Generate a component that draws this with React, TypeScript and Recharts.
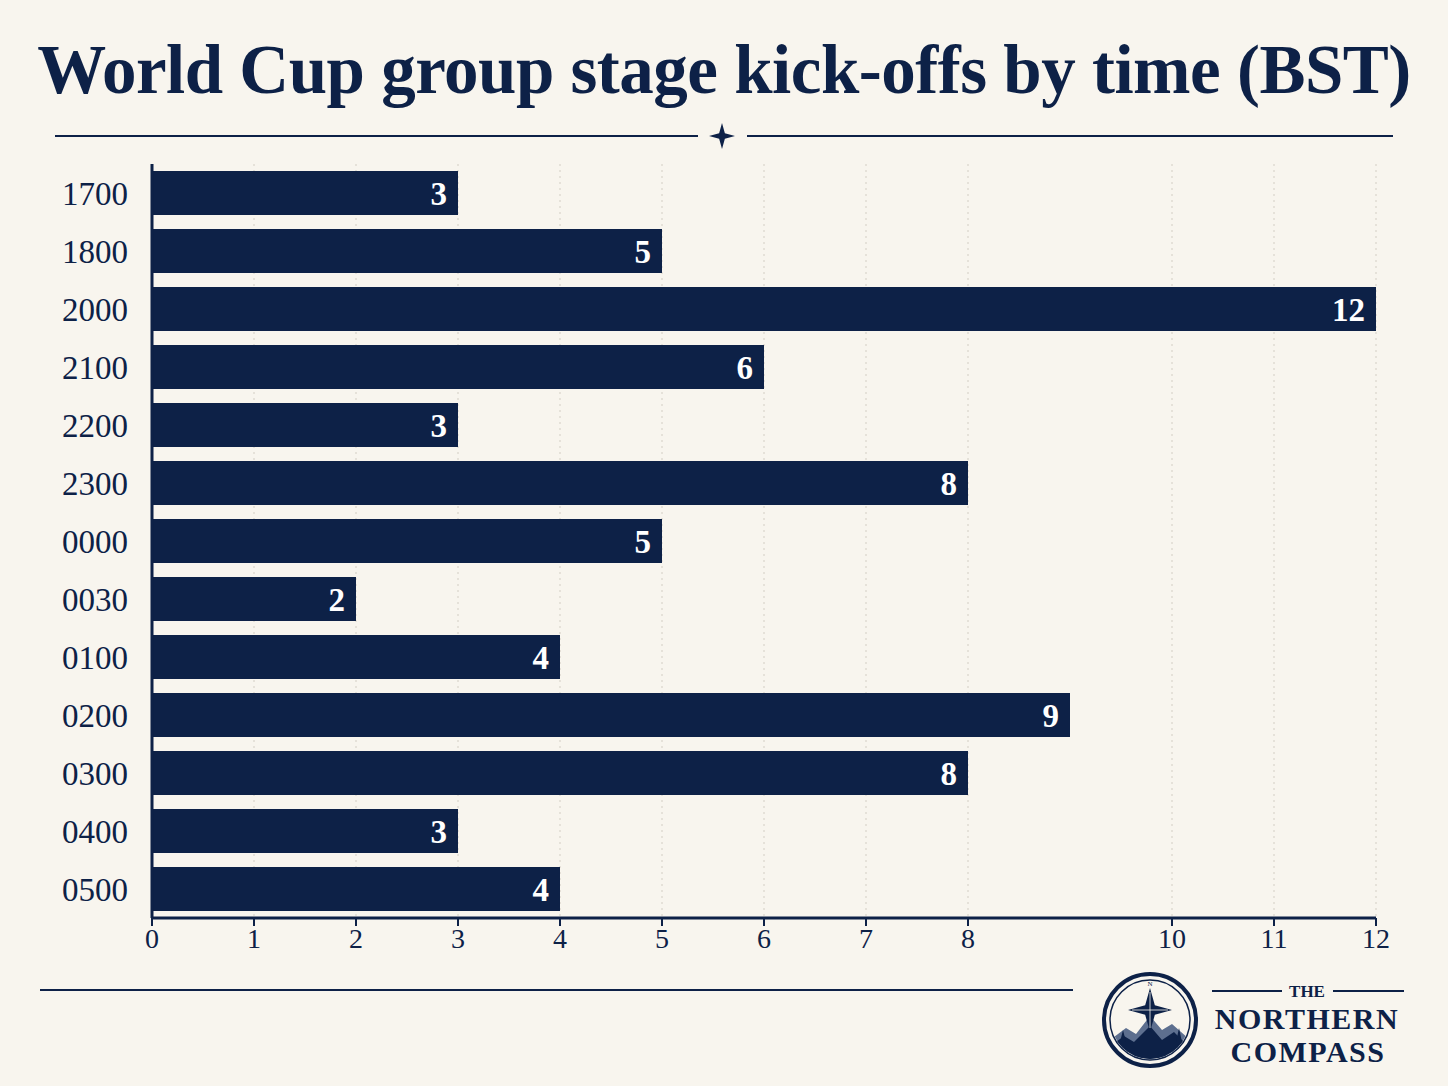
import React from "react";
import {
  BarChart,
  Bar,
  XAxis,
  YAxis,
  CartesianGrid,
  LabelList,
} from "recharts";

const NAVY = "#0d2147";
const CREAM = "#f8f5ee";
const SERIF = "'Liberation Serif', 'DejaVu Serif', serif";

// kick-off time slots (BST), top to bottom
const KICKOFFS = [
  "1700", "1800", "2000", "2100", "2200", "2300", "0000",
  "0030", "0100", "0200", "0300", "0400", "0500",
];
// number of group stage matches starting at each slot
const MATCHES = [3, 5, 12, 6, 3, 8, 5, 2, 4, 9, 8, 3, 4];
// x-axis ticks as printed on the original (no 9)
const X_TICKS = [0, 1, 2, 3, 4, 5, 6, 7, 8, 10, 11, 12];

const data = KICKOFFS.map((time, i) => ({ time, matches: MATCHES[i] }));

function Star({ cx, cy, r }: { cx: number; cy: number; r: number }) {
  const k = r * 0.22;
  const d = `M${cx},${cy - r} L${cx + k},${cy - k} L${cx + r},${cy} L${cx + k},${cy + k} L${cx},${cy + r} L${cx - k},${cy + k} L${cx - r},${cy} L${cx - k},${cy - k} Z`;
  return <path d={d} fill={NAVY} />;
}

function Logo() {
  return (
    <svg width={100} height={100} viewBox="0 0 100 100">
      <circle cx={50} cy={50} r={46} fill="none" stroke={NAVY} strokeWidth={4} />
      <circle cx={50} cy={50} r={40} fill="none" stroke={NAVY} strokeWidth={1.5} />
      <clipPath id="inner">
        <circle cx={50} cy={50} r={39} />
      </clipPath>
      <g clipPath="url(#inner)">
        <path d="M10,70 L26,58 L36,64 L50,46 L62,60 L72,54 L90,70 L90,95 L10,95 Z" fill="#5d6f8f" />
        <path d="M8,78 L24,66 L34,72 L50,56 L62,70 L74,62 L92,80 L92,95 L8,95 Z" fill={NAVY} />
        <path d="M20,72 L23,60 L26,72 Z M76,72 L79,58 L82,72 Z" fill={NAVY} />
      </g>
      <Star cx={50} cy={40} r={22} />
      <path d="M50,22 L50,58 M32,40 L68,40" stroke={CREAM} strokeWidth={0.8} />
      <text x={50} y={16} textAnchor="middle" fontSize={7} fontFamily={SERIF} fill={NAVY}>N</text>
    </svg>
  );
}

export default function App() {
  return (
    <div
      style={{
        position: "absolute",
        left: 0,
        top: 0,
        width: 1448,
        height: 1086,
        background: CREAM,
        fontFamily: SERIF,
        color: NAVY,
        overflow: "hidden",
      }}
    >
      <div
        style={{
          position: "absolute",
          top: 28,
          left: 0,
          width: 1448,
          textAlign: "center",
          fontSize: 69,
          fontWeight: 700,
          lineHeight: "84px",
          letterSpacing: -0.5,
        }}
      >
        World Cup group stage kick-offs by time (BST)
      </div>

      <svg style={{ position: "absolute", left: 0, top: 0 }} width={1448} height={1086}>
        <line x1={55} x2={698} y1={136} y2={136} stroke={NAVY} strokeWidth={2} />
        <line x1={747} x2={1393} y1={136} y2={136} stroke={NAVY} strokeWidth={2} />
        <Star cx={722} cy={136} r={13} />
        <line x1={40} x2={1073} y1={990} y2={990} stroke={NAVY} strokeWidth={2} />
        <line x1={1212} x2={1282} y1={991} y2={991} stroke={NAVY} strokeWidth={2} />
        <line x1={1333} x2={1404} y1={991} y2={991} stroke={NAVY} strokeWidth={2} />
        <text x={1307} y={997} textAnchor="middle" fontSize={17} fontWeight={700} fill={NAVY} fontFamily={SERIF}>
          THE
        </text>
        <text x={1307} y={1029} textAnchor="middle" fontSize={30} fontWeight={700} letterSpacing={1.5} fill={NAVY} fontFamily={SERIF}>
          NORTHERN
        </text>
        <text x={1308} y={1062} textAnchor="middle" fontSize={30} fontWeight={700} letterSpacing={1.5} fill={NAVY} fontFamily={SERIF}>
          COMPASS
        </text>
      </svg>

      <div style={{ position: "absolute", left: 1100, top: 970 }}>
        <Logo />
      </div>

      <div style={{ position: "absolute", left: 0, top: 0 }}>
        <BarChart
          width={1448}
          height={1086}
          data={data}
          layout="vertical"
          barCategoryGap="12%"
          margin={{ top: 164, right: 72, bottom: 128, left: 0 }}
        >
          <CartesianGrid
            horizontal={false}
            vertical
            stroke="#d3cec4"
            strokeDasharray="2 4"
          />
          <XAxis
            type="number"
            domain={[0, 12]}
            ticks={X_TICKS}
            interval={0}
            height={40}
            axisLine={{ stroke: NAVY, strokeWidth: 3 }}
            tickLine={{ stroke: NAVY, strokeWidth: 2 }}
            tickSize={8}
            tick={{ fontSize: 28, fill: NAVY, fontFamily: SERIF }}
            tickMargin={2}
          />
          <YAxis
            type="category"
            dataKey="time"
            width={152}
            axisLine={{ stroke: NAVY, strokeWidth: 3 }}
            tickLine={false}
            tickMargin={18}
            tick={{ fontSize: 33, fill: NAVY, fontFamily: SERIF }}
          />
          <Bar dataKey="matches" fill={NAVY} isAnimationActive={false}>
            <LabelList
              dataKey="matches"
              position="insideRight"
              offset={11}
              fill="#ffffff"
              fontSize={33}
              fontWeight={700}
              fontFamily={SERIF}
            />
          </Bar>
        </BarChart>
      </div>
    </div>
  );
}
